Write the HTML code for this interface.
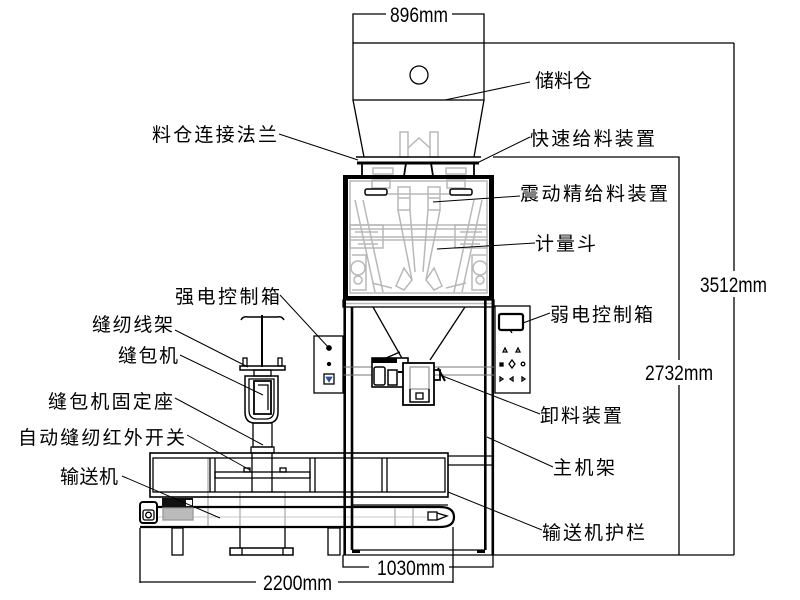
<!DOCTYPE html>
<html><head><meta charset="utf-8"><style>
html,body{margin:0;padding:0;background:#fff;}
svg{display:block;}
text{font-family:"Liberation Sans","Noto Sans CJK SC",sans-serif;fill:#000;}
.cn{font-size:19px;}
.dim{font-size:21px;}
</style></head><body>
<svg width="800" height="600" viewBox="0 0 800 600" xmlns="http://www.w3.org/2000/svg">
<rect width="800" height="600" fill="#fff"/>

<!-- light gray internal mechanism -->
<g stroke="#b8b8b8" stroke-width="1.5" fill="none">
  <rect x="400" y="132" width="8" height="25"/>
  <rect x="430" y="132" width="8" height="25"/>
  <path d="M408,148 L419,138 L430,148"/>
  <rect x="373" y="168" width="20" height="6"/>
  <rect x="446" y="168" width="20" height="6"/>
  <rect x="350" y="181" width="137" height="112"/>
  <rect x="372" y="180" width="18" height="8"/>
  <rect x="447" y="180" width="18" height="8"/>
  <rect x="398" y="187" width="12" height="23"/>
  <rect x="428" y="187" width="12" height="23"/>
  <line x1="398" y1="198" x2="410" y2="198"/>
  <line x1="428" y1="198" x2="440" y2="198"/>
  <line x1="388" y1="194" x2="450" y2="194"/>
  <path d="M355,200 L375,292 M363,200 L383,292 M482,200 L462,292 M474,200 L454,292"/>
  <path d="M398,210 L412,280 M440,210 L426,280 M410,210 L415,272 M428,210 L423,272"/>
  <path d="M350,225 H487 M350,229 H487 M350,237 H487 M350,240 H487"/>
  <rect x="350" y="225" width="33" height="23"/>
  <rect x="455" y="225" width="32" height="23"/>
  <path d="M355,232 H378 M460,232 H482 M358,244 H378 M460,244 H480"/>
  <circle cx="358" cy="268" r="7"/>
  <circle cx="480" cy="268" r="7"/>
  <circle cx="358" cy="280" r="4"/>
  <circle cx="480" cy="280" r="4"/>
  <path d="M352,255 H366 V290 H352 M486,255 H472 V290 H486"/>
  <path d="M396,286 L404,268 L412,280 L404,290 Z"/>
  <path d="M442,286 L434,268 L426,280 L434,290 Z"/>
  <path d="M372,283 L392,288 M466,283 L446,288"/>
  <line x1="343" y1="303.5" x2="494" y2="303.5"/>
  <!-- guardrail / conveyor gray -->
  <line x1="208" y1="458" x2="208" y2="527"/>
  <rect x="240" y="492" width="45" height="15"/>
  <line x1="240" y1="507" x2="240" y2="527"/>
  <line x1="285" y1="507" x2="285" y2="527"/>
  <line x1="413" y1="507" x2="413" y2="527"/>
  <line x1="395" y1="507" x2="395" y2="527"/>
  <line x1="157" y1="517" x2="428" y2="517" stroke-width="0.8"/>
</g>

<g stroke="#000" stroke-width="1.3" fill="none">
  <!-- storage bin -->
  <rect x="353" y="43" width="131" height="57"/>
  <line x1="484" y1="43" x2="734" y2="43"/>
  <circle cx="419" cy="75" r="9"/>
  <path d="M353,100 L364,157 M484,100 L474,157"/>
  <path d="M353,43 V14 H386 M452,14 H484 V43"/>
  <!-- flange -->
  <line x1="356" y1="157" x2="481" y2="157" stroke-width="1.6"/>
  <line x1="357" y1="163" x2="479" y2="163" stroke-width="3"/>
  <path d="M362,163 V176 M406,163 L404,176 M431,163 L433,176 M474,163 V176" stroke-width="1.8"/>
  <!-- weighing cabinet -->
  <rect x="343" y="175" width="5" height="125" fill="#000" stroke="none"/>
  <rect x="489" y="175" width="5" height="125" fill="#000" stroke="none"/>
  <rect x="343" y="175" width="151" height="4" fill="#000" stroke="none"/>
  <rect x="343" y="296" width="151" height="4" fill="#000" stroke="none"/>
  <rect x="365" y="189" width="22" height="6" rx="2" fill="#fff" stroke-width="1.5"/>
  <rect x="450" y="189" width="22" height="6" rx="2" fill="#fff" stroke-width="1.5"/>
  <!-- main frame -->
  <rect x="343" y="300" width="151" height="7"/>
  <path d="M344.7,300 V555 M352,307 V550 M485.3,300 V550 M492.8,300 V555" stroke-width="2.6"/>
  <line x1="352" y1="550" x2="485" y2="550"/>
  <rect x="352" y="550" width="8" height="3" fill="#000" stroke="none"/>
  <rect x="477" y="550" width="8" height="3" fill="#000" stroke="none"/>
  <line x1="343" y1="555" x2="734" y2="555"/>
  <path d="M448,456 H494 M448,465 H494"/>
  <!-- hopper -->
  <path d="M373,307 L403,360 M465,307 L430,360"/>
  <path d="M343,367 H494 M343,375 H494" stroke="#777" stroke-width="1"/>
  <!-- discharge device -->
  <rect x="372" y="358" width="36" height="29" fill="#fff" stroke-width="1.6"/>
  <rect x="372" y="358" width="25" height="5" fill="#000" stroke="none"/>
  <rect x="374" y="367" width="11" height="18" rx="2" stroke-width="1.5"/>
  <rect x="388" y="370" width="9" height="15" stroke-width="1.5"/>
  <line x1="398" y1="372" x2="406" y2="372" stroke-width="2"/>
  <rect x="403" y="363" width="31" height="42" fill="#fff" stroke-width="1.8"/>
  <rect x="410" y="367" width="19" height="22" stroke="#999"/>
  <path d="M410,389 V402 H429 V389" stroke-width="1.5"/>
  <rect x="416" y="393" width="7" height="6"/>
  <path d="M434,370 H440 V380 H434" stroke-width="1.8"/>
  <line x1="438" y1="368" x2="445" y2="381" stroke-width="2"/>
  <line x1="386" y1="358" x2="400" y2="352"/>
  <!-- weak electric box -->
  <rect x="495" y="306" width="35" height="87"/>
  <rect x="499" y="314" width="24" height="16" rx="2" stroke-width="2.2"/>
  <line x1="510" y1="330" x2="512" y2="333"/>
  <path d="M503,352 L505,348 L507,352 Z M516,352 L518,348 L520,352 Z"/>
  <rect x="500" y="363" width="3" height="3" fill="#000"/>
  <path d="M512,360 L515,364 L512,368 L509,364 Z"/>
  <circle cx="523" cy="364" r="1.8"/>
  <path d="M500,377 V381 L503,379 Z M513,377 V381 L510,379 Z M522,377 V381 L525,379 Z"/>
  <!-- strong electric box -->
  <rect x="314" y="336" width="29" height="57"/>
  <circle cx="329" cy="348" r="2.2" fill="#000"/>
  <circle cx="329" cy="364" r="1.5" fill="#000"/>
  <rect x="324" y="374" width="10" height="10"/>
  <path d="M326,377 H332 L329,382 Z" fill="#2a4ea0" stroke="#2a4ea0" stroke-width="0.8"/>
  <!-- sewing thread stand & machine -->
  <line x1="262" y1="315" x2="262" y2="367" stroke-width="2"/>
  <path d="M241,320 Q243,316 248,317 L277,317 Q282,316 284,320" stroke-width="1.5"/>
  <rect x="240" y="366" width="45" height="4" stroke-width="1.5"/>
  <rect x="243" y="358" width="4" height="8"/>
  <rect x="278" y="358" width="4" height="8"/>
  <rect x="254" y="370" width="17" height="6"/>
  <path d="M245,376 H278 V412 Q278,423 268,423 H255 Q245,423 245,412 Z" stroke-width="1.5"/>
  <path d="M249,379 H274 V410 Q274,419 266,419 H257 Q249,419 249,410 Z"/>
  <path d="M254,381 H271 V414 H254 Z" stroke-width="1.8"/>
  <path d="M258,385 H268 V410" />
  <rect x="253" y="423" width="19" height="24"/>
  <rect x="251" y="447" width="23" height="6"/>
  <!-- guardrail -->
  <rect x="150" y="453" width="298" height="44" stroke-width="1.6"/>
  <rect x="153" y="458" width="292" height="34"/>
  <path d="M210,458 V492 M215,458 V492 M310,458 V492 M315,458 V492 M382,458 V492 M387,458 V492"/>
  <rect x="215" y="472" width="95" height="6"/>
  <rect x="244" y="468" width="6" height="4"/>
  <rect x="280" y="468" width="6" height="4"/>
  <path d="M252,453 V492 M272,453 V492"/>
  <!-- conveyor -->
  <path d="M157,507 H440 Q454,507 454,517 Q454,527 440,527 H140" stroke-width="2.2"/>
  <line x1="353" y1="505" x2="448" y2="505"/>
  <rect x="140" y="502" width="17" height="21" rx="3" stroke-width="2"/>
  <rect x="143" y="510" width="11" height="10" rx="2"/>
  <circle cx="148.5" cy="515" r="2.8"/>
  <rect x="162" y="498" width="31" height="9" fill="#111" stroke="none"/>
  <rect x="186" y="500" width="6" height="6" fill="#fff" stroke="none"/>
  <rect x="163" y="508" width="30" height="12" fill="#bbb" stroke="#999"/>
  <rect x="428" y="512" width="9" height="8"/>
  <path d="M437,513 L447,516 L437,520"/>
  <!-- legs and base -->
  <rect x="172" y="528" width="11" height="27"/>
  <rect x="328" y="528" width="12" height="27"/>
  <path d="M240,527 V548 M285,527 V548"/>
  <rect x="230" y="548" width="63" height="7" stroke-width="1.5"/>
  <path d="M242,548 V555 M283,548 V555"/>
  <!-- dimensions -->
  <path d="M734,43 V271 M734,297 V555"/>
  <path d="M493,157 H679 V360 M679,385 V555"/>
  <path d="M140,528 V583 M140,582 H256 M338,582 H453 M453,527 V583"/>
  <path d="M343,555 V567 H369 M449,567 H493 V555"/>
  <!-- leaders -->
  <g stroke-width="1">
    <line x1="445" y1="100" x2="530" y2="82"/>
    <line x1="279" y1="134" x2="358" y2="160"/>
    <line x1="530" y1="137" x2="477" y2="163"/>
    <line x1="433" y1="202" x2="520" y2="196"/>
    <line x1="437" y1="249" x2="535" y2="243"/>
    <line x1="523" y1="323" x2="550" y2="313"/>
    <line x1="440" y1="375" x2="540" y2="414"/>
    <line x1="487" y1="437" x2="553" y2="467"/>
    <line x1="448" y1="492" x2="542" y2="530"/>
    <line x1="280" y1="295" x2="329" y2="348"/>
    <line x1="175" y1="330" x2="248" y2="367"/>
    <line x1="180" y1="355" x2="263" y2="395"/>
    <line x1="175" y1="398" x2="263" y2="445"/>
    <line x1="187" y1="435" x2="250" y2="470"/>
    <line x1="122" y1="476" x2="220" y2="518"/>
  </g>
</g>

<!-- dimension texts -->
<text class="dim" x="390" y="22" textLength="58" lengthAdjust="spacingAndGlyphs">896mm</text>
<text class="dim" x="700" y="292" textLength="67" lengthAdjust="spacingAndGlyphs">3512mm</text>
<text class="dim" x="645" y="380" textLength="68" lengthAdjust="spacingAndGlyphs">2732mm</text>
<text class="dim" x="263" y="590" textLength="69" lengthAdjust="spacingAndGlyphs">2200mm</text>
<text class="dim" x="377" y="575" textLength="68" lengthAdjust="spacingAndGlyphs">1030mm</text>

<!-- labels -->
<text class="cn" x="535" y="87" textLength="57" lengthAdjust="spacing">储料仓</text>
<text class="cn" x="152" y="141" textLength="125" lengthAdjust="spacing">料仓连接法兰</text>
<text class="cn" x="530" y="145" textLength="125" lengthAdjust="spacing">快速给料装置</text>
<text class="cn" x="520" y="200" textLength="148" lengthAdjust="spacing">震动精给料装置</text>
<text class="cn" x="535" y="250" textLength="61" lengthAdjust="spacing">计量斗</text>
<text class="cn" x="550" y="321" textLength="103" lengthAdjust="spacing">弱电控制箱</text>
<text class="cn" x="540" y="422" textLength="82" lengthAdjust="spacing">卸料装置</text>
<text class="cn" x="553" y="474" textLength="62" lengthAdjust="spacing">主机架</text>
<text class="cn" x="542" y="539" textLength="103" lengthAdjust="spacing">输送机护栏</text>
<text class="cn" x="175" y="303" textLength="105" lengthAdjust="spacing">强电控制箱</text>
<text class="cn" x="92" y="331" textLength="81" lengthAdjust="spacing">缝纫线架</text>
<text class="cn" x="118" y="362" textLength="60" lengthAdjust="spacing">缝包机</text>
<text class="cn" x="48" y="408" textLength="125" lengthAdjust="spacing">缝包机固定座</text>
<text class="cn" x="18" y="444" textLength="167" lengthAdjust="spacing">自动缝纫红外开关</text>
<text class="cn" x="60" y="483" textLength="58" lengthAdjust="spacing">输送机</text>
</svg>
</body></html>
